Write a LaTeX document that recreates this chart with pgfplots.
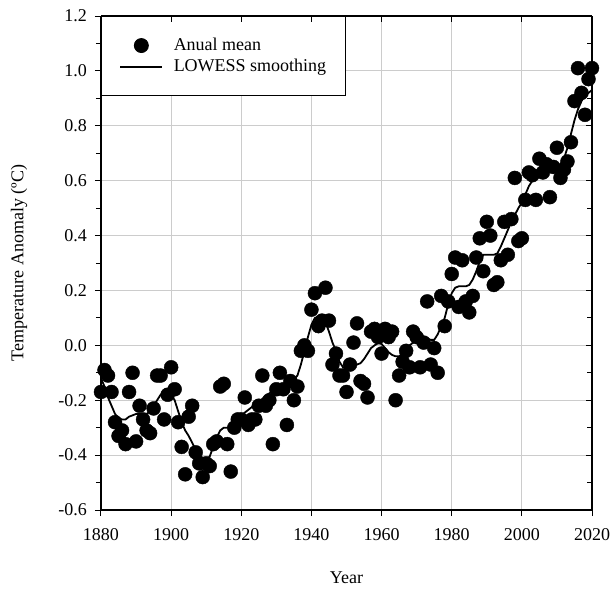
\documentclass[border=0pt]{standalone}
\usepackage{fontspec}
\setmainfont{Liberation Serif}
\usepackage{pgfplots}
\usepackage{pgfplotstable}
\pgfplotsset{compat=1.18}

\pgfplotstableread{
year anom
1880 -0.17
1881 -0.09
1882 -0.11
1883 -0.17
1884 -0.28
1885 -0.33
1886 -0.31
1887 -0.36
1888 -0.17
1889 -0.10
1890 -0.35
1891 -0.22
1892 -0.27
1893 -0.31
1894 -0.32
1895 -0.23
1896 -0.11
1897 -0.11
1898 -0.27
1899 -0.18
1900 -0.08
1901 -0.16
1902 -0.28
1903 -0.37
1904 -0.47
1905 -0.26
1906 -0.22
1907 -0.39
1908 -0.43
1909 -0.48
1910 -0.43
1911 -0.44
1912 -0.36
1913 -0.35
1914 -0.15
1915 -0.14
1916 -0.36
1917 -0.46
1918 -0.30
1919 -0.27
1920 -0.27
1921 -0.19
1922 -0.29
1923 -0.27
1924 -0.27
1925 -0.22
1926 -0.11
1927 -0.22
1928 -0.20
1929 -0.36
1930 -0.16
1931 -0.10
1932 -0.16
1933 -0.29
1934 -0.13
1935 -0.20
1936 -0.15
1937 -0.02
1938 -0.00
1939 -0.02
1940 0.13
1941 0.19
1942 0.07
1943 0.09
1944 0.21
1945 0.09
1946 -0.07
1947 -0.03
1948 -0.11
1949 -0.11
1950 -0.17
1951 -0.07
1952 0.01
1953 0.08
1954 -0.13
1955 -0.14
1956 -0.19
1957 0.05
1958 0.06
1959 0.03
1960 -0.03
1961 0.06
1962 0.03
1963 0.05
1964 -0.20
1965 -0.11
1966 -0.06
1967 -0.02
1968 -0.08
1969 0.05
1970 0.03
1971 -0.08
1972 0.01
1973 0.16
1974 -0.07
1975 -0.01
1976 -0.10
1977 0.18
1978 0.07
1979 0.16
1980 0.26
1981 0.32
1982 0.14
1983 0.31
1984 0.16
1985 0.12
1986 0.18
1987 0.32
1988 0.39
1989 0.27
1990 0.45
1991 0.40
1992 0.22
1993 0.23
1994 0.31
1995 0.45
1996 0.33
1997 0.46
1998 0.61
1999 0.38
2000 0.39
2001 0.53
2002 0.63
2003 0.62
2004 0.53
2005 0.68
2006 0.63
2007 0.66
2008 0.54
2009 0.65
2010 0.72
2011 0.61
2012 0.64
2013 0.67
2014 0.74
2015 0.89
2016 1.01
2017 0.92
2018 0.84
2019 0.97
2020 1.01
}\annual

\pgfplotstableread{
year smooth
1880 -0.12
1881 -0.15
1882 -0.19
1883 -0.22
1884 -0.25
1885 -0.265
1886 -0.27
1887 -0.27
1888 -0.26
1889 -0.255
1890 -0.25
1891 -0.25
1892 -0.255
1893 -0.25
1894 -0.24
1895 -0.22
1896 -0.20
1897 -0.18
1898 -0.17
1899 -0.17
1900 -0.18
1901 -0.20
1902 -0.24
1903 -0.28
1904 -0.31
1905 -0.33
1906 -0.355
1907 -0.38
1908 -0.40
1909 -0.41
1910 -0.415
1911 -0.405
1912 -0.37
1913 -0.335
1914 -0.31
1915 -0.30
1916 -0.30
1917 -0.295
1918 -0.285
1919 -0.27
1920 -0.255
1921 -0.245
1922 -0.235
1923 -0.225
1924 -0.215
1925 -0.205
1926 -0.195
1927 -0.185
1928 -0.175
1929 -0.165
1930 -0.155
1931 -0.145
1932 -0.14
1933 -0.135
1934 -0.13
1935 -0.125
1936 -0.11
1937 -0.07
1938 -0.02
1939 0.03
1940 0.075
1941 0.10
1942 0.105
1943 0.10
1944 0.085
1945 0.05
1946 0.01
1947 -0.02
1948 -0.06
1949 -0.08
1950 -0.085
1951 -0.08
1952 -0.075
1953 -0.07
1954 -0.065
1955 -0.05
1956 -0.03
1957 -0.01
1958 0.00
1959 0.008
1960 0.005
1961 -0.01
1962 -0.025
1963 -0.035
1964 -0.04
1965 -0.04
1966 -0.03
1967 -0.015
1968 0.00
1969 0.01
1970 0.02
1971 0.025
1972 0.025
1973 0.025
1974 0.02
1975 0.02
1976 0.04
1977 0.07
1978 0.10
1979 0.15
1980 0.19
1981 0.21
1982 0.215
1983 0.215
1984 0.215
1985 0.22
1986 0.24
1987 0.27
1988 0.305
1989 0.33
1990 0.33
1991 0.33
1992 0.33
1993 0.335
1994 0.36
1995 0.39
1996 0.42
1997 0.45
1998 0.475
1999 0.50
2000 0.52
2001 0.55
2002 0.58
2003 0.60
2004 0.62
2005 0.63
2006 0.635
2007 0.64
2008 0.64
2009 0.645
2010 0.65
2011 0.66
2012 0.68
2013 0.72
2014 0.77
2015 0.82
2016 0.86
2017 0.89
2018 0.91
2019 0.92
2020 0.93
}\lowess

\begin{document}
\fontsize{18pt}{21.6pt}\selectfont
\begin{tikzpicture}
\useasboundingbox (-101pt,-80pt) rectangle (511pt,510pt);
\pgfplotsset{
  common/.style={
    at={(0,0)}, anchor=south west,
    width=491pt, height=494pt, scale only axis,
    xmin=1880, xmax=2020, ymin=-0.6, ymax=1.2,
    xtick={1880,1900,1920,1940,1960,1980,2000,2020},
    ytick={-0.6,-0.4,-0.2,0,0.2,0.4,0.6,0.8,1.0,1.2},
    minor ytick={-0.5,-0.3,-0.1,0.1,0.3,0.5,0.7,0.9,1.1},
    major tick length=6pt, minor tick length=5pt,
    every tick/.style={black, line width=1pt},
    axis line style={-, black, line width=1.2pt},
  }
}
\begin{axis}[common,
  axis x line*=bottom, axis y line*=left,
  tick align=outside,
  xticklabels={1880,1900,1920,1940,1960,1980,2000,2020},
  yticklabels={-0.6,-0.4,-0.2,0.0,0.2,0.4,0.6,0.8,1.0,1.2},
  xticklabel style={yshift=-6pt},
  yticklabel style={xshift=-2pt},
  grid=major,
  major grid style={color=black!20, line width=0.9pt},
  xlabel={Year},
  ylabel={Temperature Anomaly (ºC)},
  xlabel style={at={(axis description cs:0.5,-0.138)}, anchor=center},
  ylabel style={at={(axis description cs:-0.167,0.5)}, anchor=center},
  legend image code/.code={\draw[mark repeat=2,mark phase=2,#1] plot coordinates {(0pt,0pt)(21pt,0pt)(42pt,0pt)};},
  legend style={at={(0,1)}, anchor=north west, draw=black, line width=0.9pt, fill=white,
    inner xsep=18pt, inner ysep=20pt, row sep=3pt,
    /tikz/every odd column/.append style={column sep=9pt},
    nodes={inner sep=1.5pt}},
  legend cell align=left,
]
\addplot[only marks, mark=*, mark size=7pt, black] table[x=year, y=anom] {\annual};
\addlegendentry{Anual mean}
\addplot[black, line width=1.8pt, no marks] table[x=year, y=smooth] {\lowess};
\addlegendentry{LOWESS smoothing}
\end{axis}
\begin{axis}[common,
  axis x line*=top, axis y line*=right,
  tick align=inside,
  xticklabels={}, yticklabels={},
]
\end{axis}
\end{tikzpicture}
\end{document}
